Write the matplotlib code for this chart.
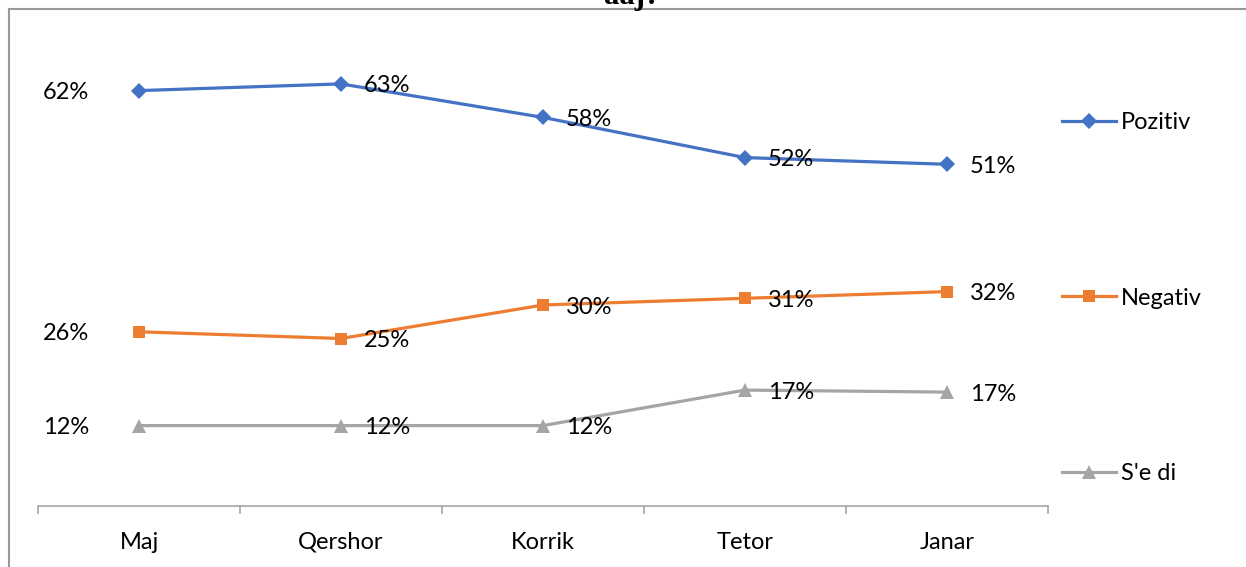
import matplotlib.pyplot as plt
from matplotlib.patches import Rectangle
from matplotlib.lines import Line2D

plt.rcParams['font.family'] = ['Lato', 'DejaVu Sans']

# Data
months = ['Maj', 'Qershor', 'Korrik', 'Tetor', 'Janar']
pozitiv = [62, 63, 58, 52, 51]
negativ = [26, 25, 30, 31, 32]
sedi = [12, 12, 12, 17.3, 17]
series_names = ['Pozitiv', 'Negativ', "S'e di"]

BLUE = '#4472C4'
ORANGE = '#ED7D31'
GRAY = '#A5A5A5'
AXIS_GRAY = '#A6A6A6'
FS = 17

W, H = 1246, 567
fig = plt.figure(figsize=(W / 100, H / 100), dpi=100)
ax = fig.add_axes([38 / W, 1 - 506 / H, (1048 - 38) / W, (506 - 37) / H])

x = list(range(len(months)))
styles = [
    (pozitiv, BLUE, 'D', 8.5),
    (negativ, ORANGE, 's', 9),
    (sedi, GRAY, '^', 9.5),
]

for (vals, color, marker, ms), name in zip(styles, series_names):
    ax.plot(x, vals, color=color, lw=2.3, marker=marker, markersize=ms,
            markeredgewidth=0, label=name, solid_capstyle='round', zorder=3)
    for i, v in enumerate(vals):
        txt = f'{v:.0f}%'
        if i == 0:
            ax.annotate(txt, (i, v), xytext=(-36, -1.5), textcoords='offset points',
                        ha='right', va='center', fontsize=FS, color='black')
        else:
            ax.annotate(txt, (i, v), xytext=(16.5, -1.5), textcoords='offset points',
                        ha='left', va='center', fontsize=FS, color='black')

ax.set_xlim(-0.5, len(months) - 0.5)
ax.set_ylim(0, 70)

# category boundaries as major ticks, labels on minor ticks
ax.set_xticks([i - 0.5 for i in range(len(months) + 1)])
ax.set_xticklabels([])
ax.set_xticks(x, minor=True)
ax.set_xticklabels(months, minor=True, fontsize=FS)
ax.tick_params(axis='x', which='major', length=6, width=1.2, color=AXIS_GRAY)
ax.tick_params(axis='x', which='minor', length=0, pad=18.5)
ax.set_yticks([])

for side in ['top', 'right', 'left']:
    ax.spines[side].set_visible(False)
ax.spines['bottom'].set_color(AXIS_GRAY)
ax.spines['bottom'].set_linewidth(1.2)

handles = [Line2D([0], [0], color=c, lw=2.3, marker=m, markersize=ms, markeredgewidth=0)
           for _, c, m, ms in styles]
fig.legend(handles, series_names, loc='center left',
           bbox_to_anchor=(1062 / W, 1 - 298 / H), bbox_transform=fig.transFigure,
           frameon=False, fontsize=FS, handlelength=2.3, handletextpad=0.2,
           labelspacing=6.55, borderpad=0, borderaxespad=0)

# chart border (only top and left visible in the crop)
fig.patches.append(Rectangle((9 / W, -0.2), 1.5, 1.2 - 8.5 / H, transform=fig.transFigure,
                             fill=False, edgecolor='#999999', lw=1.5))

# title cut off at the top edge
fig.text(632 / W, 1 - 4 / H, 'aaj?', ha='center', va='baseline', fontsize=22,
         fontweight='bold', family='Liberation Serif', color='black')

fig.savefig('out.png', dpi=100)
